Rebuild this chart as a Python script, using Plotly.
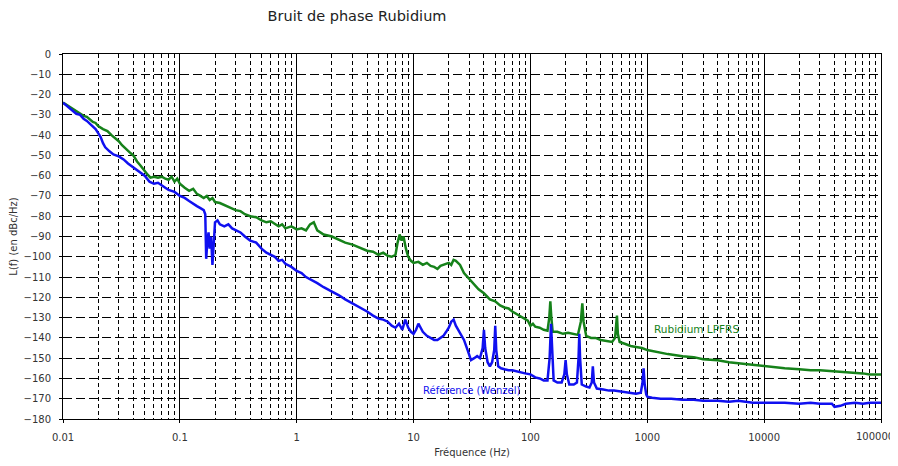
import plotly.graph_objects as go

# --- data ---
green_freq = [0.01, 0.011, 0.012, 0.013, 0.014, 0.015, 0.016, 0.017, 0.018, 0.019, 0.02, 0.022, 0.024, 0.026,
              0.028, 0.03, 0.032, 0.034, 0.036, 0.038, 0.04, 0.043, 0.046, 0.05, 0.053, 0.056, 0.06, 0.065,
              0.07, 0.075, 0.08, 0.085, 0.09, 0.095, 0.1, 0.11, 0.12, 0.13, 0.14, 0.15, 0.16, 0.17, 0.18,
              0.19, 0.2, 0.22, 0.25, 0.28, 0.3, 0.33, 0.36, 0.4, 0.45, 0.5, 0.55, 0.6, 0.65, 0.7, 0.75, 0.8,
              0.9, 1.0, 1.1, 1.2, 1.3, 1.4, 1.5, 1.7, 2.0, 2.3, 2.6, 3.0, 3.3, 3.7, 4.0, 4.5, 5.0, 5.5, 6.0,
              6.5, 7.0, 7.3, 7.6, 7.9, 8.2, 8.6, 9.0, 9.5, 10, 11, 12, 13, 14, 15, 16, 17, 18, 19, 20, 21,
              22, 23, 24, 25, 27, 30, 33, 36, 40, 45, 50, 55, 60, 65, 70, 75, 80, 85, 90, 95, 100, 105, 110,
              120, 130, 140, 145, 148, 151, 155, 170, 190, 210, 230, 255, 270, 278, 285, 300, 330, 360, 400,
              450, 500, 530, 550, 560, 580, 650, 720, 800, 900, 1000, 1200, 1500, 2000, 2500, 3000, 4000,
              5000, 6000, 7000, 8000, 10000, 12000, 15000, 20000, 25000, 30000, 40000, 50000, 60000, 70000,
              80000, 100000]
green_db = [-24, -25.5, -27, -28, -29.5, -30.5, -31, -32.5, -33.5, -34, -35.5, -37, -38, -40,
            -41.5, -43, -45, -46.5, -48, -49, -50, -53, -55, -58, -59.5, -61, -60.5, -61,
            -60.5, -61.5, -62, -60.5, -63, -61.5, -64, -66, -67.5, -66.5, -69, -70, -71, -70, -72,
            -71, -73, -73.5, -75, -76, -77, -77.5, -79, -80, -80.5, -82, -83, -82.5, -84, -85, -84, -86,
            -85, -86.5, -86, -87, -84, -83, -87, -89, -90, -91.5, -93, -94, -95, -96, -97, -97.5, -99, -98, -99.5,
            -100, -99, -93, -89, -92, -90, -96, -100, -102, -103, -102.5, -104, -103, -104.5, -105, -106, -104.5, -104, -103.5, -103, -104,
            -101.5, -102, -103, -104, -108, -111, -114, -116, -118, -121, -122, -124, -125, -125.5, -127, -128, -129, -130, -131, -131.5, -134, -133, -134.5,
            -135, -136, -136.5, -130, -122, -130, -137, -137, -138, -137.5, -138, -138.5, -132, -123, -132, -139, -140, -140, -141,
            -141.5, -142, -140, -129, -138, -142, -143, -144, -144.5, -145, -146, -147, -148, -149, -149.5, -150.5, -151,
            -152, -152.5, -153, -153.5, -154, -154.5, -155, -155.5, -156, -156, -156.5, -157, -157, -157.5,
            -158, -158]

blue_freq = [0.01, 0.011, 0.012, 0.013, 0.014, 0.015, 0.016, 0.017, 0.018, 0.019, 0.02, 0.021, 0.022, 0.023,
             0.025, 0.027, 0.03, 0.033, 0.036, 0.04, 0.045, 0.05, 0.055, 0.06, 0.065, 0.07, 0.075, 0.08,
             0.09, 0.1, 0.11, 0.12, 0.13, 0.14, 0.15, 0.16, 0.165, 0.168, 0.172, 0.176, 0.18, 0.185, 0.19,
             0.195, 0.2, 0.21, 0.22, 0.24, 0.26, 0.28, 0.3, 0.33, 0.36, 0.4, 0.45, 0.5, 0.55, 0.6, 0.65,
             0.7, 0.75, 0.8, 0.9, 1.0, 1.1, 1.2, 1.3, 1.5, 1.7, 2.0, 2.3, 2.6, 3.0, 3.3, 3.7, 4.0, 4.5,
             5.0, 5.5, 6.0, 6.5, 7.0, 7.5, 8.0, 8.5, 9.0, 9.5, 10, 10.5, 11, 11.5, 12, 13, 14, 15, 16, 17,
             18, 19, 20, 21, 22, 23, 24, 25, 27, 29, 31, 33, 35, 37, 39, 40, 41, 43, 45, 47, 49, 50, 51,
             53, 56, 60, 65, 70, 80, 90, 100, 110, 120, 130, 140, 146, 150, 154, 158, 170, 185, 195, 200,
             205, 215, 235, 250, 258, 262, 266, 275, 300, 320, 335, 342, 350, 370, 420, 470, 520, 600,
             700, 800, 880, 910, 930, 950, 980, 1000, 1100, 1300, 1600, 2000, 2500, 3000, 4000, 5000,
             6000, 7000, 8000, 10000, 12000, 15000, 20000, 25000, 30000, 38000, 40000, 45000, 50000,
             60000, 70000, 80000, 100000]
blue_db = [-24, -26, -28, -29.5, -30, -32, -33, -34.5, -35.5, -37, -39, -41, -44, -46,
           -48, -49.5, -50.5, -52, -54, -56, -58, -60, -63, -64, -63.5, -65, -66, -67,
           -68, -70, -71, -72.5, -74, -75, -76, -77, -79, -101, -92, -88, -96, -90, -104,
           -95, -83, -82, -84, -85, -84, -86, -87, -88, -90, -92, -93, -96, -98, -99, -100,
           -102, -101.5, -103.5, -105, -107, -108, -110, -111, -113, -115, -117, -119, -121, -123, -124, -126, -127, -129,
           -130.5, -131, -132, -134, -135, -133, -136, -131, -135, -137, -138, -136, -133, -135, -137, -139, -140, -141, -141, -140,
           -139, -137, -135, -132, -131, -134, -136, -138, -141, -146, -151, -150, -149, -150, -145, -136, -145, -152, -154, -152, -146, -134, -146,
           -154, -155, -155.5, -156, -156, -157, -157.5, -158, -159.5, -160, -161, -161, -150, -133, -150, -161, -162, -162, -158, -151,
           -158, -163, -163, -162, -150, -138, -150, -163, -164, -164.5, -162, -154, -162, -165, -165.5, -166, -166, -166.5,
           -167, -167.5, -167, -162, -155, -163, -168, -169, -169.5, -170, -170, -170.5, -170.5, -171, -171, -171.5,
           -171, -171.5, -172, -172, -172, -172, -172.5, -172, -172.5, -172.5, -174, -173.5, -172.5,
           -172, -172.5, -172, -172]

x_tick_vals = [0.01, 0.1, 1, 10, 100, 1000, 10000, 100000]
x_tick_text = ["0.01", "0.1", "1", "10", "100", "1000", "10000", "100000"]
y_tick_vals = list(range(0, -190, -10))

title_text = "Bruit de phase Rubidium"
green_name = "Rubidium LPFRS"
blue_name = "Référence (Wenzel)"
x_title = "Fréquence (Hz)"
y_title = "L(f) (en dBc/Hz)"

GREEN = "#16821a"
BLUE = "#1010f0"
FONT = "DejaVu Sans, Liberation Sans, sans-serif"
TXT = "#333333"

# page body has an 8px default margin, so the figure is 8px smaller
W, H = 890, 458

# the last tick label sits at the right edge; draw it as a right-aligned text so it stays whole
axis_ticktext = x_tick_text[:-1] + [""]
edge_label = x_tick_text[-1]

fig = go.Figure()
fig.add_trace(go.Scatter(x=green_freq, y=green_db, mode="lines", name=green_name,
                         line=dict(color=GREEN, width=2.5)))
fig.add_trace(go.Scatter(x=blue_freq, y=blue_db, mode="lines", name=blue_name,
                         line=dict(color=BLUE, width=2.5)))

fig.add_annotation(x=3.04, y=-135.5, xref="x", yref="y", text=green_name, showarrow=False,
                   xanchor="left", yanchor="middle", font=dict(family=FONT, size=10.5, color=GREEN))
fig.add_annotation(x=1.06, y=-166, xref="x", yref="y", text=blue_name, showarrow=False,
                   xanchor="left", yanchor="middle", font=dict(family=FONT, size=10, color=BLUE))
fig.add_annotation(x=1, y=0, xref="paper", yref="paper", text=edge_label, showarrow=False,
                   xanchor="right", yanchor="middle", xshift=15, yshift=-17,
                   font=dict(family=FONT, size=10, color=TXT))

fig.update_layout(
    width=W, height=H,
    margin=dict(l=55, r=17, t=46, b=47, autoexpand=False),
    paper_bgcolor="white", plot_bgcolor="white",
    showlegend=False,
    font=dict(family=FONT, size=10, color=TXT),
    title=dict(text=title_text, x=349 / W, xanchor="center", xref="container",
               y=1 - 8 / H, yanchor="middle", yref="container",
               font=dict(family=FONT, size=14.5, color="#222222")),
    xaxis=dict(
        type="log", range=[-2, 5], automargin=False,
        tickvals=x_tick_vals, ticktext=axis_ticktext,
        showgrid=True, gridcolor="black", gridwidth=1,
        showline=True, linecolor="black", linewidth=1, mirror=True,
        ticks="outside", ticklen=3, tickcolor="black",
        ticklabelstandoff=6,
        minor=dict(dtick="D1", showgrid=True, gridcolor="black", gridwidth=1, griddash="4px,3px"),
        title=dict(text=x_title, font=dict(family=FONT, size=10, color=TXT), standoff=6),
        tickfont=dict(family=FONT, size=10, color=TXT),
        zeroline=False,
    ),
    yaxis=dict(
        range=[-180, 0], tickvals=y_tick_vals, automargin=False,
        showgrid=True, gridcolor="black", gridwidth=1, griddash="9px,4px",
        showline=True, linecolor="black", linewidth=1, mirror=True,
        ticks="outside", ticklen=3, tickcolor="black",
        ticklabelstandoff=6,
        title=dict(text=y_title, font=dict(family=FONT, size=10, color=TXT), standoff=8),
        tickfont=dict(family=FONT, size=10, color=TXT),
        zeroline=False,
    ),
)

fig.write_html("out.html")
